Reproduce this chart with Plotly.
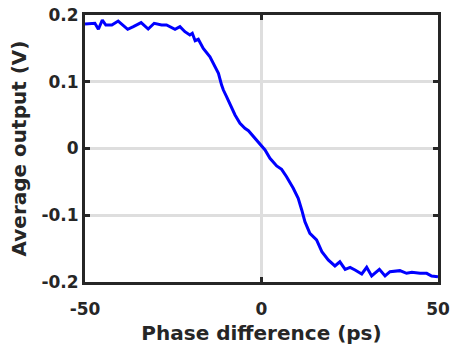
import plotly.graph_objects as go

phase_ps = [-50, -47.2, -46.2, -45.1, -44.1, -42.4, -40.6, -39.2, -37.9, -36.3, -34.1, -32.1,
            -30.4, -28.3, -26.9, -24.5, -23.1, -21.7, -20.3, -19.6, -18.8, -17.9, -16.5, -14.6,
            -13.2, -12.2, -11.3, -10.8, -9.9, -8.9, -7.5, -6.1, -4.7, -3.7, -2.3, -0.4, 1.0,
            2.4, 4.3, 5.7, 7.1, 9.0, 10.4, 11.4, 12.3, 13.7, 15.6, 17.1, 18.9, 20.8, 22.2,
            23.7, 25.1, 26.5, 28.4, 29.8, 31.2, 33.4, 35.0, 36.4, 39.2, 41.1, 42.6, 44.9,
            46.8, 48.2, 50]
avg_output_v = [0.1865, 0.1876, 0.1786, 0.1925, 0.185, 0.185, 0.191, 0.185, 0.1786, 0.1825,
                0.1885, 0.179, 0.1876, 0.185, 0.185, 0.1786, 0.1825, 0.175, 0.170, 0.1726,
                0.1615, 0.1636, 0.150, 0.1375, 0.1225, 0.1127, 0.0951, 0.0876, 0.0776, 0.0652,
                0.0502, 0.0378, 0.0303, 0.0267, 0.0177, 0.0052, -0.0022, -0.0147, -0.0262,
                -0.0312, -0.0422, -0.0596, -0.0746, -0.0921, -0.1096, -0.127, -0.137, -0.1545,
                -0.167, -0.176, -0.1697, -0.181, -0.178, -0.182, -0.188, -0.178, -0.191, -0.181,
                -0.191, -0.1846, -0.183, -0.187, -0.1855, -0.187, -0.187, -0.191, -0.192]

x_ticks = [-50, 0, 50]
y_ticks = [-0.2, -0.1, 0, 0.1, 0.2]
y_tick_labels = ["-0.2", "-0.1", "0", "0.1", "0.2"]

ink = "#262626"
font_family = "DejaVu Sans"

fig = go.Figure(go.Scatter(x=phase_ps, y=avg_output_v, mode="lines",
                           line=dict(color="#0000ff", width=3)))

axis_common = dict(
    showline=True, linecolor=ink, linewidth=3, mirror="ticks",
    ticks="inside", ticklen=5, tickwidth=2.5, tickcolor=ink,
    showgrid=True, gridcolor="#dedede", gridwidth=2.5, zeroline=False,
    automargin=False,
    tickfont=dict(family=font_family, size=17, color=ink, weight="bold"),
)

fig.update_xaxes(range=[-50, 50], tickvals=x_ticks, ticktext=[str(v) for v in x_ticks],
                 title=dict(text="Phase difference (ps)", standoff=8,
                            font=dict(family=font_family, size=20, color=ink, weight="bold")),
                 ticklabelstandoff=10, **axis_common)
fig.update_yaxes(range=[-0.2, 0.2], tickvals=y_ticks, ticktext=y_tick_labels,
                 title=dict(text="Average output (V)", standoff=10,
                            font=dict(family=font_family, size=20, color=ink, weight="bold")),
                 ticklabelstandoff=0, **axis_common)

fig.update_layout(width=452, height=351, margin=dict(l=85, r=14, t=15, b=69),
                  plot_bgcolor="white", paper_bgcolor="white", showlegend=False)

fig.write_html("out.html", config={"displayModeBar": False},
               post_script="document.body.style.margin='0';document.body.style.overflow='hidden';")
